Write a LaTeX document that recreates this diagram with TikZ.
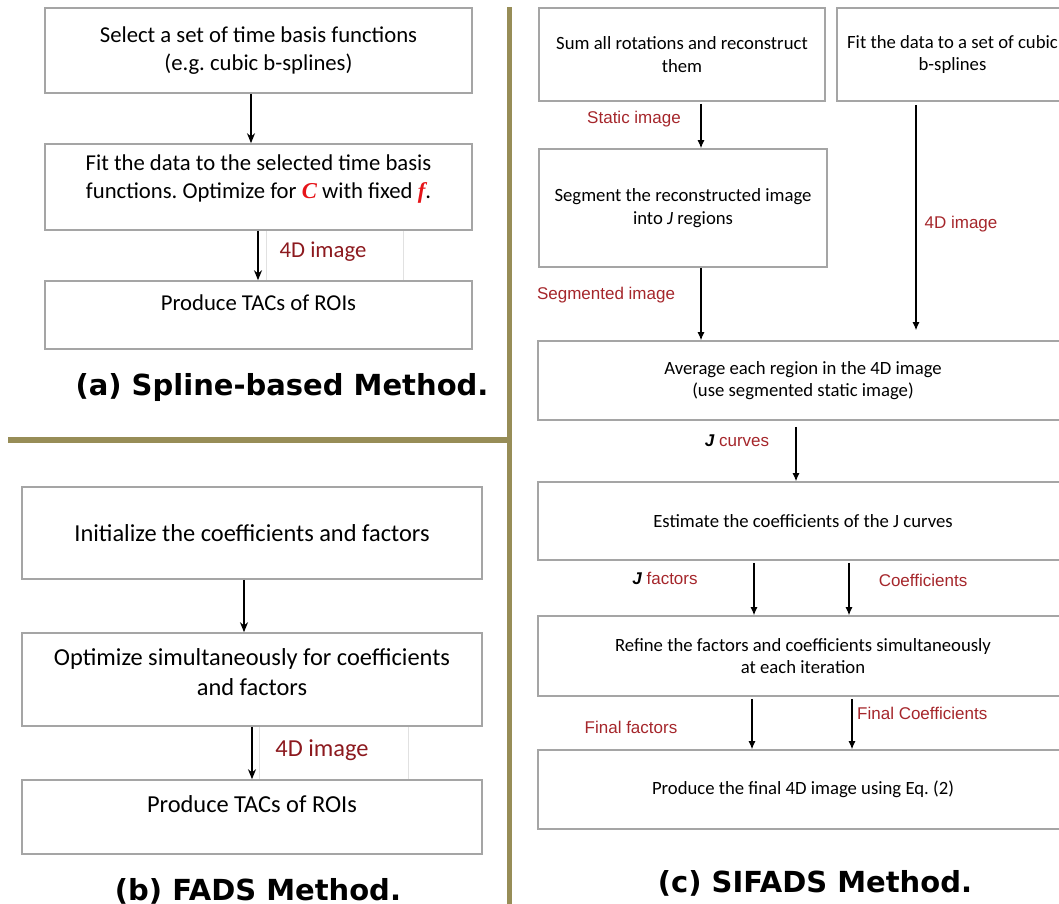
\documentclass[tikz,border=0pt]{standalone}
\usepackage{fontspec}
\setmainfont{Carlito}
\newfontfamily\arialf{Liberation Sans}
\newfontfamily\dejaf{DejaVu Sans}
\newfontfamily\timesf{Liberation Serif}
\usetikzlibrary{arrows.meta,calc}
\definecolor{boxgray}{RGB}{165,165,165}
\definecolor{faintgray}{RGB}{225,225,225}
\definecolor{olivebar}{RGB}{151,141,87}
\definecolor{lblred}{RGB}{165,38,43}
\definecolor{darkred}{RGB}{140,25,30}
\definecolor{brightred}{RGB}{230,20,25}
\frenchspacing
\begin{document}
\begin{tikzpicture}[x=1pt,y=-1pt,
  box/.style={draw=boxgray, line width=1.6pt, inner sep=0pt, align=center},
  ta/.style={font=\fontsize{22.7}{28}\selectfont, align=center, inner sep=0pt},
  tb/.style={font=\fontsize{24.4}{30}\selectfont, align=center, inner sep=0pt},
  tc/.style={font=\fontsize{18.7}{22.5}\selectfont, align=center, inner sep=0pt},
  lbl/.style={font=\arialf\fontsize{17}{20}\selectfont, text=lblred, inner sep=0pt},
  lbab/.style={font=\fontsize{22.7}{28}\selectfont, text=darkred, inner sep=0pt},
  titlestyle/.style={font=\dejaf\bfseries\fontsize{29}{34}\selectfont, inner sep=0pt, anchor=base},
  arrab/.style={-{Stealth[length=10pt,width=8pt]}, line width=1.5pt},
  arrc/.style={-{Latex[length=8pt,width=7pt]}, line width=1.1pt},
  bar/.style={draw=olivebar, line width=5.5pt}
]
\useasboundingbox (0,0) rectangle (1059,903);
\clip (0,0) rectangle (1059,903);

% separators
\draw[bar] (509.5,7) -- (509.5,910);
\draw[bar] (8,440) -- (509.5,440);

% ---------- (a) ----------
\draw[faintgray, line width=0.8pt] (266,230) rectangle (403,280);
\node[box, ta, minimum width=427pt, minimum height=85pt] (a1) at (258.5,50.5)
  {Select a set of time basis functions\\(e.g. cubic b-splines)};
\node[box, minimum width=427pt, minimum height=86pt] (a2) at (258.5,187) {};
\node[ta] (a2t) at (258.5,179)
  {Fit the data to the selected time basis\\functions. Optimize for {\timesf\bfseries\itshape\color{brightred}C} with fixed {\timesf\bfseries\itshape\color{brightred}f}.};
\node[box, minimum width=427pt, minimum height=68pt] (a3) at (258.5,315) {};
\node[ta] (a3t) at (258.5,303) {Produce TACs of ROIs};
\node[lbab] (a4d) at (323,252) {4D image};
\coordinate (xa1) at (251,0);
\coordinate (xa2) at (258,0);
\draw[arrab] (a1.south -| xa1) -- (a2.north -| xa1);
\draw[arrab] (a2.south -| xa2) -- (a3.north -| xa2);
\node[titlestyle] (ta) at (282,395) {(a) Spline-based Method.};

% ---------- (b) ----------
\draw[faintgray, line width=0.8pt] (259,726) rectangle (408,780);
\node[box, tb, minimum width=460pt, minimum height=92pt] (b1) at (252,533)
  {Initialize the coefficients and factors};
\node[box, minimum width=460pt, minimum height=93pt] (b2) at (252,679.5) {};
\node[tb] (b2t) at (252,672) {Optimize simultaneously for coefficients\\and factors};
\node[box, minimum width=460pt, minimum height=74pt] (b3) at (252,817) {};
\node[tb] (b3t) at (252,804) {Produce TACs of ROIs};
\node[lbab, font=\fontsize{24.4}{30}\selectfont] (b4d) at (322,750) {4D image};
\coordinate (xb1) at (244,0);
\coordinate (xb2) at (252,0);
\draw[arrab] (b1.south -| xb1) -- (b2.north -| xb1);
\draw[arrab] (b2.south -| xb2) -- (b3.north -| xb2);
\node[titlestyle] (tbt) at (258,900) {(b) FADS Method.};

% ---------- (c) ----------
\node[box, tc, minimum width=286pt, minimum height=93pt] (c1) at (682,54.5)
  {Sum all rotations and reconstruct\\them};
\node[box, tc, minimum width=231pt, minimum height=93pt] (c2) at (952.5,54.5)
  {Fit the data to a set of cubic\\b-splines};
\node[box, tc, minimum width=288pt, minimum height=118pt] (c3) at (683,208)
  {Segment the reconstructed image\\into \textit{J} regions};
\node[box, tc, minimum width=530pt, minimum height=79pt] (c4) at (803,380.5)
  {Average each region in the 4D image\\(use segmented static image)};
\node[box, tc, minimum width=530pt, minimum height=78pt] (c5) at (803,521)
  {Estimate the coefficients of the J curves};
\node[box, tc, minimum width=530pt, minimum height=80pt] (c6) at (803,656)
  {Refine the factors and coefficients simultaneously\\at each iteration};
\node[box, tc, minimum width=530pt, minimum height=79pt] (c7) at (803,789.5)
  {Produce the final 4D image using Eq. (2)};

\coordinate (xc1) at (701,0);
\coordinate (xc2) at (916,0);
\coordinate (xc3) at (796,0);
\coordinate (xc4) at (754,0);
\coordinate (xc5) at (849,0);
\coordinate (xc6) at (752,0);
\coordinate (xc7) at (852,0);
\draw[arrc, shorten <=2pt] (c1.south -| xc1) -- (c3.north -| xc1);
\draw[arrc] (c3.south -| xc1) -- (c4.north -| xc1);
\draw[arrc, shorten <=3pt, shorten >=10pt] (c2.south -| xc2) -- (c4.north -| xc2);
\draw[arrc, shorten <=6pt] (c4.south -| xc3) -- (c5.north -| xc3);
\draw[arrc, shorten <=2pt] (c5.south -| xc4) -- (c6.north -| xc4);
\draw[arrc, shorten <=2pt] (c5.south -| xc5) -- (c6.north -| xc5);
\draw[arrc, shorten <=2pt] (c6.south -| xc6) -- (c7.north -| xc6);
\draw[arrc, shorten <=2pt] (c6.south -| xc7) -- (c7.north -| xc7);

\node[lbl] (l1) at (634,119) {Static image};
\node[lbl] (l2) at (606,295) {Segmented image};
\node[lbl] (l3) at (961,224) {4D image};
\node[lbl] (l4) at (737,441) {{\bfseries\itshape\color{black}J} curves};
\node[lbl] (l5) at (665,578) {{\bfseries\itshape\color{black}J} factors};
\node[lbl] (l6) at (923,580) {Coefficients};
\node[lbl] (l7) at (631,727) {Final factors};
\node[lbl, anchor=west] (l8) at (857,713) {Final Coefficients};
\node[titlestyle] (tct) at (815,892) {(c) SIFADS Method.};
\end{tikzpicture}
\end{document}
